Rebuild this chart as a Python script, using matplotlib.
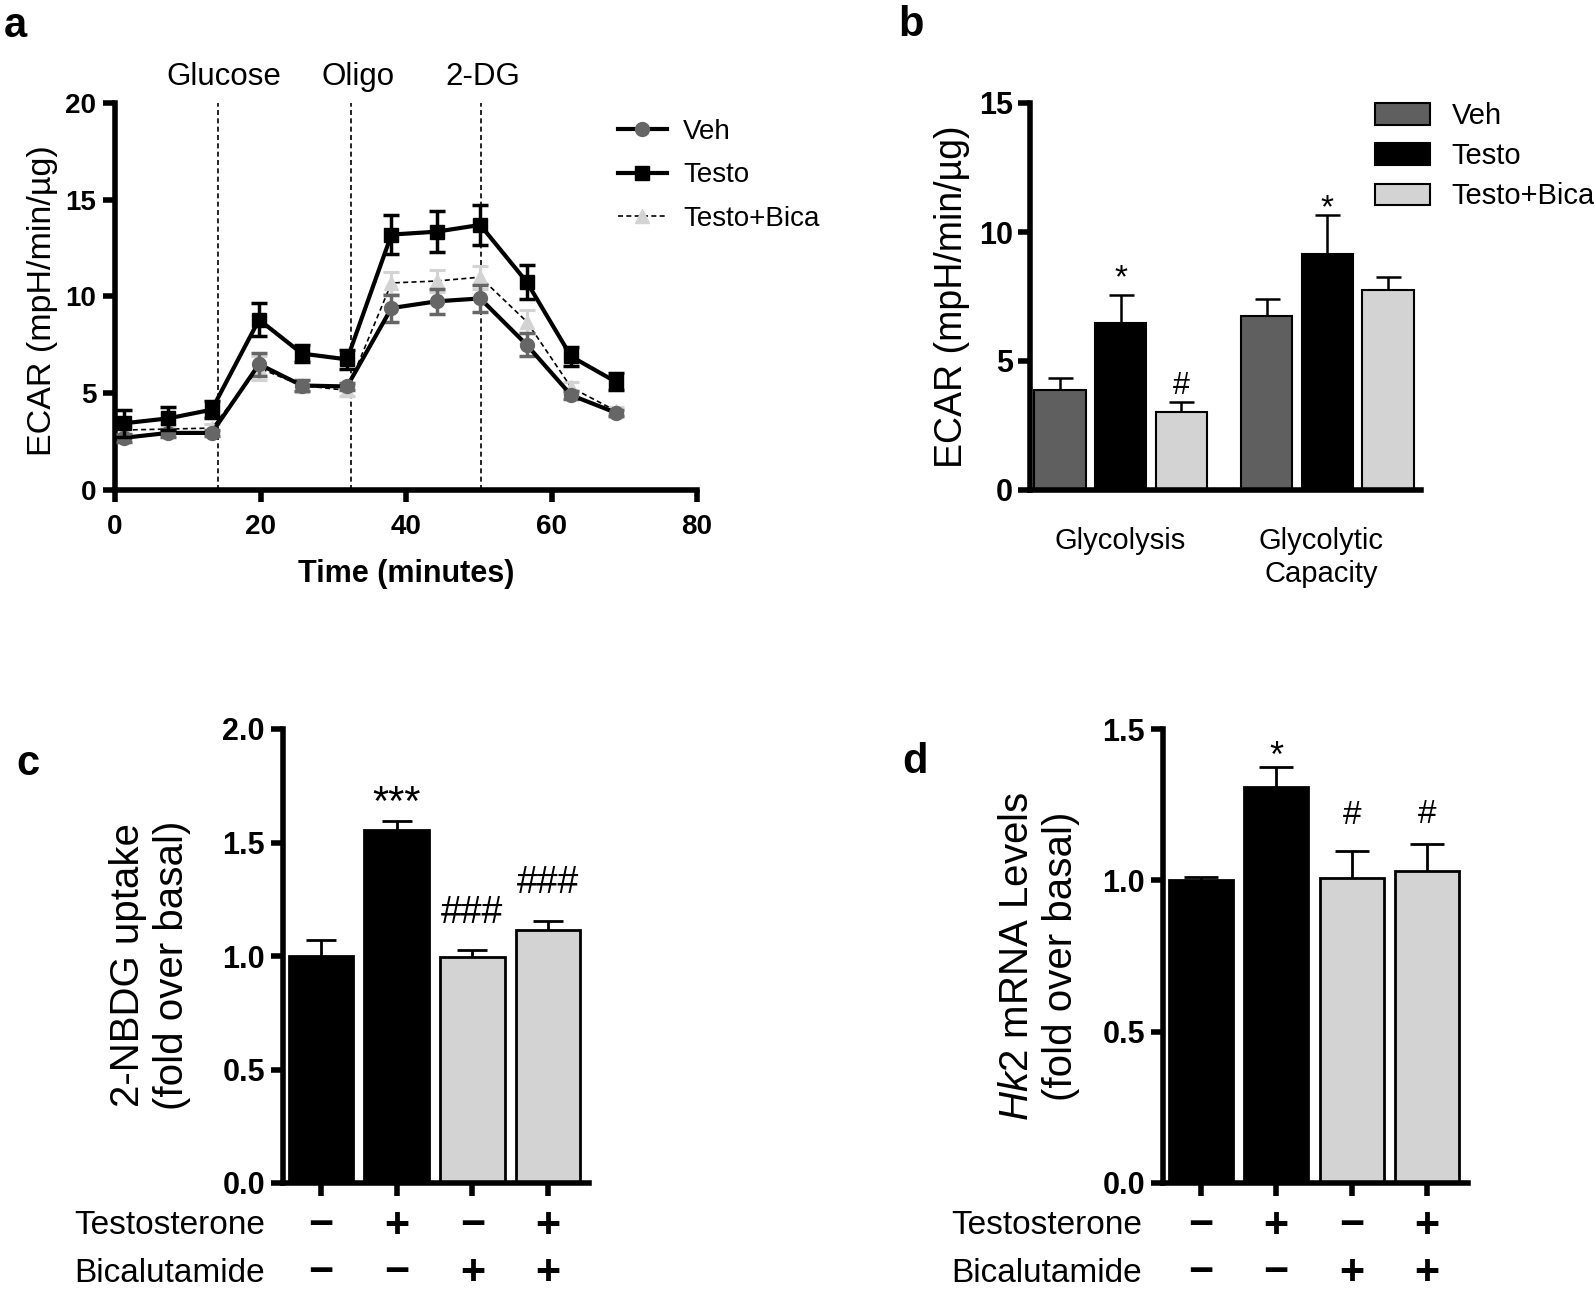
import matplotlib
matplotlib.use('Agg')
import matplotlib.pyplot as plt
import matplotlib.transforms as mtransforms
from matplotlib.lines import Line2D
from matplotlib.patches import Patch

plt.rcParams['font.family'] = ['Liberation Sans', 'DejaVu Sans']
plt.rcParams['mathtext.fontset'] = 'custom'
plt.rcParams['mathtext.rm'] = 'Liberation Sans'
plt.rcParams['mathtext.it'] = 'Liberation Sans:italic'

# ---------------- data ----------------
# panel a
time_min = [1.3, 7.3, 13.3, 19.8, 25.7, 31.9, 38.0, 44.2, 50.2, 56.6, 62.7, 68.8]
veh_ecar = [2.7, 2.95, 2.95, 6.5, 5.4, 5.35, 9.4, 9.75, 9.9, 7.5, 4.9, 4.0]
veh_err = [0.2, 0.2, 0.15, 0.6, 0.3, 0.2, 0.7, 0.65, 0.7, 0.6, 0.2, 0.15]
testo_ecar = [3.45, 3.7, 4.15, 8.8, 7.05, 6.75, 13.2, 13.35, 13.7, 10.75, 6.9, 5.6]
testo_err = [0.7, 0.6, 0.45, 0.85, 0.45, 0.5, 1.0, 1.05, 1.05, 0.9, 0.5, 0.45]
bica_ecar = [3.1, 3.15, 3.2, 6.3, 5.4, 5.15, 10.7, 10.8, 11.0, 8.7, 5.3, 4.1]
bica_err = [0.2, 0.2, 0.2, 0.6, 0.3, 0.3, 0.55, 0.55, 0.6, 0.6, 0.3, 0.2]
injections = ['Glucose', 'Oligo', '2-DG']
injection_times = [14.1, 32.4, 50.3]
series_names = ['Veh', 'Testo', 'Testo+Bica']

# panel b
b_groups = ['Glycolysis', 'Glycolytic\nCapacity']
b_veh = [3.87, 6.73]
b_veh_err = [0.49, 0.69]
b_testo = [6.47, 9.16]
b_testo_err = [1.10, 1.51]
b_bica = [3.03, 7.74]
b_bica_err = [0.39, 0.51]
b_marks = [['', '*', '#'], ['', '*', '']]

# panels c and d
cond_testosterone = ['\u2212', '+', '\u2212', '+']
cond_bicalutamide = ['\u2212', '\u2212', '+', '+']
c_values = [1.0, 1.555, 0.995, 1.115]
c_err = [0.07, 0.04, 0.03, 0.04]
c_marks = ['', '***', '###', '###']
d_values = [1.0, 1.307, 1.007, 1.03]
d_err = [0.012, 0.066, 0.089, 0.089]
d_marks = ['', '*', '#', '#']

# ---------------- figure ----------------
W, H = 1594, 1292
fig = plt.figure(figsize=(W / 100, H / 100), dpi=100)


def rect(left, top, right, bottom):
    return [left / W, 1 - bottom / H, (right - left) / W, (bottom - top) / H]


def fx(x):
    return x / W


def fy(y):
    return 1 - y / H


AX_LW = 4


def style(ax, tick_len=8.5):
    for s in ['top', 'right']:
        ax.spines[s].set_visible(False)
    for s in ['left', 'bottom']:
        ax.spines[s].set_linewidth(AX_LW)
        ax.spines[s].set_capstyle('projecting')
    ax.tick_params(direction='out', width=AX_LW, length=tick_len)


BLACK = '#000000'
VEH_GRAY = '#666666'
BAR_GRAY = '#5f5f5f'
LIGHT = '#d3d3d3'

# ---------------- panel a ----------------
axa = fig.add_axes(rect(115, 103, 697, 490))
style(axa)
axa.set_xlim(0, 80)
axa.set_ylim(0, 20)
axa.set_xticks([0, 20, 40, 60, 80])
axa.set_yticks([0, 5, 10, 15, 20])
axa.tick_params(axis='y', pad=5)
axa.tick_params(axis='x', pad=9)
for lab in axa.get_xticklabels() + axa.get_yticklabels():
    lab.set_fontsize(20)
    lab.set_fontweight('bold')

for t in injection_times:
    axa.axvline(t, color='black', lw=1.2, ls=(0, (3, 2)), zorder=1)
trans_a = mtransforms.blended_transform_factory(axa.transData, axa.transAxes)
for name, t, dx in zip(injections, injection_times, [4.5, 5, 1.5]):
    axa.annotate(name, xy=(t, (490 - 77) / 387), xycoords=trans_a, xytext=(dx, 0),
                 textcoords='offset points', ha='center', va='center', fontsize=22.5,
                 annotation_clip=False)

axa.errorbar(time_min, bica_ecar, yerr=bica_err, fmt='^', ls=(0, (3, 2)), color='black',
             lw=1.2, ms=10, mfc=LIGHT, mec=LIGHT, ecolor=LIGHT, elinewidth=2.2,
             capsize=6, capthick=2.2, zorder=2)
axa.errorbar(time_min, veh_ecar, yerr=veh_err, fmt='o', ls='-', color='black', lw=3,
             ms=10, mfc=VEH_GRAY, mec=VEH_GRAY, ecolor=VEH_GRAY, elinewidth=2.5,
             capsize=6, capthick=2.5, zorder=3)
axa.errorbar(time_min, testo_ecar, yerr=testo_err, fmt='s', ls='-', color='black', lw=3,
             ms=10, mfc='black', mec='black', ecolor='black', elinewidth=2.5,
             capsize=6, capthick=2.5, zorder=4)

axa.set_ylabel('ECAR (mpH/min/\u00b5g)', fontsize=24.5)
axa.yaxis.set_label_coords((43 - 115) / 582, 0.49)
axa.yaxis.label.set_va('center')
axa.set_xlabel('Time (minutes)', fontsize=22, fontweight='bold')
axa.xaxis.set_label_coords(0.5, (490 - 574) / 387)
axa.xaxis.label.set_va('center')

a_handles = [
    Line2D([], [], color='black', lw=3, marker='o', ms=10, mfc=VEH_GRAY, mec=VEH_GRAY),
    Line2D([], [], color='black', lw=3, marker='s', ms=10, mfc='black', mec='black'),
    Line2D([], [], color='black', lw=1.2, ls=(0, (3, 2)), marker='^', ms=10, mfc=LIGHT,
           mec=LIGHT),
]
fig.legend(a_handles, series_names, loc='upper left', bbox_to_anchor=(fx(618), fy(119)),
           frameon=False, fontsize=20, handlelength=1.75, handletextpad=0.6,
           labelspacing=0.63, borderpad=0, borderaxespad=0)


def hide_lower_caps(eb, values):
    caps = eb[1]
    for cl in caps:
        yd = list(cl.get_ydata())
        if all(abs(a - b) < 1e-9 for a, b in zip(yd, values)):
            cl.set_visible(False)


# ---------------- panel b ----------------
axb = fig.add_axes(rect(1030, 103, 1421, 490))
style(axb)
axb.set_xlim(-0.49, 5.94)
axb.set_ylim(0, 15)
axb.set_yticks([0, 5, 10, 15])
axb.tick_params(axis='y', pad=4)
for lab in axb.get_yticklabels():
    lab.set_fontsize(22)
    lab.set_fontweight('bold')

group_gap = 3.4
b_vals = [b_veh, b_testo, b_bica]
b_errs = [b_veh_err, b_testo_err, b_bica_err]
b_cols = [BAR_GRAY, BLACK, LIGHT]
b_offsets_pt = [[0, 11.5, 11], [0, 4.5, 0]]
for si in range(3):
    xs = [gi * group_gap + si for gi in range(len(b_groups))]
    axb.bar(xs, b_vals[si], width=0.85, color=b_cols[si], edgecolor='black',
            linewidth=1.5, zorder=2)
    eb = axb.errorbar(xs, b_vals[si], yerr=[[0] * len(xs), b_errs[si]], fmt='none',
                      ecolor='black', elinewidth=1.8, capsize=9, capthick=1.8, zorder=3)
    hide_lower_caps(eb, b_vals[si])
    for gi, x in enumerate(xs):
        m = b_marks[gi][si]
        if m:
            top = b_vals[si][gi] + b_errs[si][gi]
            axb.annotate(m, xy=(x, top), xytext=(0, b_offsets_pt[gi][si]),
                         textcoords='offset points', ha='center', va='center',
                         fontsize=24 if m == '*' else 22)

axb.set_xticks([1, group_gap + 0.9])
axb.set_xticklabels(b_groups, fontsize=21)
axb.tick_params(axis='x', length=0, pad=27)

axb.set_ylabel('ECAR (mpH/min/\u00b5g)', fontsize=27)
axb.yaxis.set_label_coords((952 - 1030) / 391, 0.5)
axb.yaxis.label.set_va('center')

b_handles = [Patch(facecolor=c, edgecolor='black', linewidth=1.5) for c in b_cols]
fig.legend(b_handles, series_names, loc='upper left', bbox_to_anchor=(fx(1375), fy(102)),
           frameon=False, fontsize=21, handlelength=1.9, handleheight=0.76,
           handletextpad=0.72, labelspacing=0.42, borderpad=0, borderaxespad=0)


# ---------------- panels c and d ----------------
def cond_panel(ax, values, errs, marks, mark_offsets, mark_sizes, ylim, yticks, ylabel,
               label_x, label_y, row_label_x, capsize):
    style(ax, tick_len=9)
    n = len(values)
    xs = list(range(n))
    ax.set_xlim(-0.5, 3.54)
    ax.set_ylim(*ylim)
    ax.set_yticks(yticks)
    ax.set_yticklabels([f'{v:.1f}' for v in yticks])
    ax.tick_params(axis='y', pad=4)
    for lab in ax.get_yticklabels():
        lab.set_fontsize(22)
        lab.set_fontweight('bold')
    ax.set_xticks(xs)
    ax.set_xticklabels([])
    cols = [BLACK, BLACK, LIGHT, LIGHT]
    ax.bar(xs, values, width=0.85, color=cols, edgecolor='black', linewidth=2, zorder=2)
    eb = ax.errorbar(xs, values, yerr=[[0] * n, errs], fmt='none', ecolor='black',
                     elinewidth=2, capsize=capsize, capthick=2, zorder=3)
    hide_lower_caps(eb, values)
    for x, v, e, m, off, sz in zip(xs, values, errs, marks, mark_offsets, mark_sizes):
        if m:
            ax.annotate(m, xy=(x, v + e), xytext=(0, off), textcoords='offset points',
                        ha='center', va='center', fontsize=sz)
    tr = ax.get_xaxis_transform()
    row1 = -43 / 454
    row2 = -90 / 454
    for x, s1, s2 in zip(xs, cond_testosterone, cond_bicalutamide):
        ax.text(x, row1, s1, transform=tr, ha='center', va='center', fontsize=31,
                fontweight='bold')
        ax.text(x, row2, s2, transform=tr, ha='center', va='center', fontsize=31,
                fontweight='bold')
    ax.text(row_label_x, row1, 'Testosterone', transform=ax.transAxes, ha='right',
            va='center', fontsize=24)
    ax.text(row_label_x, row2, 'Bicalutamide', transform=ax.transAxes, ha='right',
            va='center', fontsize=24)
    ax.set_ylabel(ylabel, fontsize=29, linespacing=1.2)
    ax.yaxis.set_label_coords(label_x, label_y)
    ax.yaxis.label.set_va('center')


axc = fig.add_axes(rect(283, 729, 589, 1183))
cond_panel(axc, c_values, c_err, c_marks, [0, 12, 27, 27], [30, 30, 27, 27], (0, 2.0),
           [0.0, 0.5, 1.0, 1.5, 2.0], '2-NBDG uptake\n(fold over basal)',
           (150 - 283) / 306, 0.48, (265 - 283) / 306, 11)

axd = fig.add_axes(rect(1163, 729, 1468, 1183))
cond_panel(axd, d_values, d_err, d_marks, [0, 7.5, 26, 21.5], [26, 26, 24, 24], (0, 1.5),
           [0.0, 0.5, 1.0, 1.5], '$\\mathit{Hk2}$ mRNA Levels\n(fold over basal)',
           (1039 - 1163) / 305, 0.5, (1142 - 1163) / 305, 12)

# ---------------- panel letters ----------------
for letter, x, y in [('a', 4, 26), ('b', 898, 25), ('c', 16, 764), ('d', 902, 762)]:
    fig.text(fx(x), fy(y), letter, ha='left', va='center', fontsize=30, fontweight='bold')

fig.savefig('out.png', dpi=100)
